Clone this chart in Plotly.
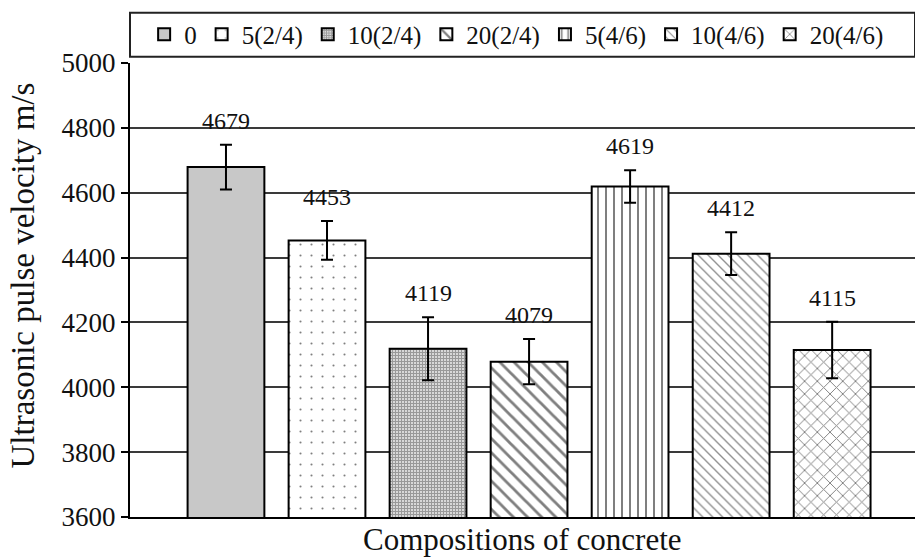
import plotly.graph_objects as go

categories = ["0", "5(2/4)", "10(2/4)", "20(2/4)", "5(4/6)", "10(4/6)", "20(4/6)"]
velocity = [4679, 4453, 4119, 4079, 4619, 4412, 4115]
error = [69, 60, 97, 70, 50, 66, 87]

x_title = "Compositions of concrete"
y_title = "Ultrasonic pulse velocity m/s"

# pattern styling per composition
fills = ["#c8c8c8", "white", "white", "white", "white", "white", "white"]
patterns = [
    dict(shape=""),
    dict(shape=".", size=11, solidity=0.03, fgcolor="black", bgcolor="white"),
    dict(shape="+", size=3, solidity=0.7, fgcolor="#333", bgcolor="white"),
    dict(shape="\\", size=10, solidity=0.28, fgcolor="black", bgcolor="white"),
    dict(shape="|", size=8, solidity=0.25, fgcolor="black", bgcolor="white"),
    dict(shape="\\", size=7, solidity=0.2, fgcolor="#222", bgcolor="white"),
    dict(shape="x", size=9, solidity=0.2, fgcolor="black", bgcolor="white"),
]

FONT = "Liberation Serif, Times New Roman, serif"

fig = go.Figure()
for cat, v, e, col, pat in zip(categories, velocity, error, fills, patterns):
    fig.add_trace(go.Bar(
        x=[cat], y=[v], name=cat, width=0.76,
        marker=dict(color=col, line=dict(color="black", width=2), pattern=pat),
        error_y=dict(type="data", array=[e], visible=True, color="black",
                     thickness=2, width=6),
    ))

for cat, v, e in zip(categories, velocity, error):
    fig.add_annotation(x=cat, y=v + e, text=str(v), showarrow=False,
                       yanchor="middle", yshift=24,
                       font=dict(family=FONT, size=24, color="#111"))

# axis titles
fig.add_annotation(xref="paper", yref="paper", x=0.5, y=-0.0485,
                   text=x_title, showarrow=False, xanchor="center",
                   yanchor="middle",
                   font=dict(family=FONT, size=31, color="#111"))
fig.add_annotation(xref="paper", yref="paper", x=-0.1363, y=0.532,
                   text=y_title, showarrow=False, textangle=-90,
                   xanchor="center", yanchor="middle",
                   font=dict(family=FONT, size=33, color="#111"))

# legend frame
fig.add_shape(type="rect", xref="paper", yref="paper", x0=0, x1=1,
              y0=1.0139, y1=1.1108, line=dict(color="#222", width=2),
              fillcolor="rgba(0,0,0,0)")

fig.update_layout(
    width=915, height=558,
    margin=dict(l=130, r=0, t=63, b=41),
    paper_bgcolor="white", plot_bgcolor="white",
    barmode="overlay",
    font=dict(family=FONT, color="#111"),
    showlegend=True,
    legend=dict(orientation="h", x=0.018, xanchor="left", y=1.0628,
                yanchor="middle", font=dict(family=FONT, size=25, color="#111"),
                bgcolor="rgba(0,0,0,0)", borderwidth=0, itemwidth=30,
                traceorder="normal"),
    xaxis=dict(type="category", range=[-0.95, 6.82], showticklabels=False,
               ticks="", showline=True, linecolor="black", linewidth=2,
               showgrid=False, zeroline=False),
    yaxis=dict(range=[3600, 5000], dtick=200, tick0=3600, ticks="outside",
               ticklen=7, tickwidth=2, tickcolor="black",
               showline=True, linecolor="black", linewidth=2,
               showgrid=True, gridcolor="#3a3a3a", gridwidth=2, zeroline=False,
               tickfont=dict(family=FONT, size=27, color="#111")),
)

fig.write_html("out.html")
